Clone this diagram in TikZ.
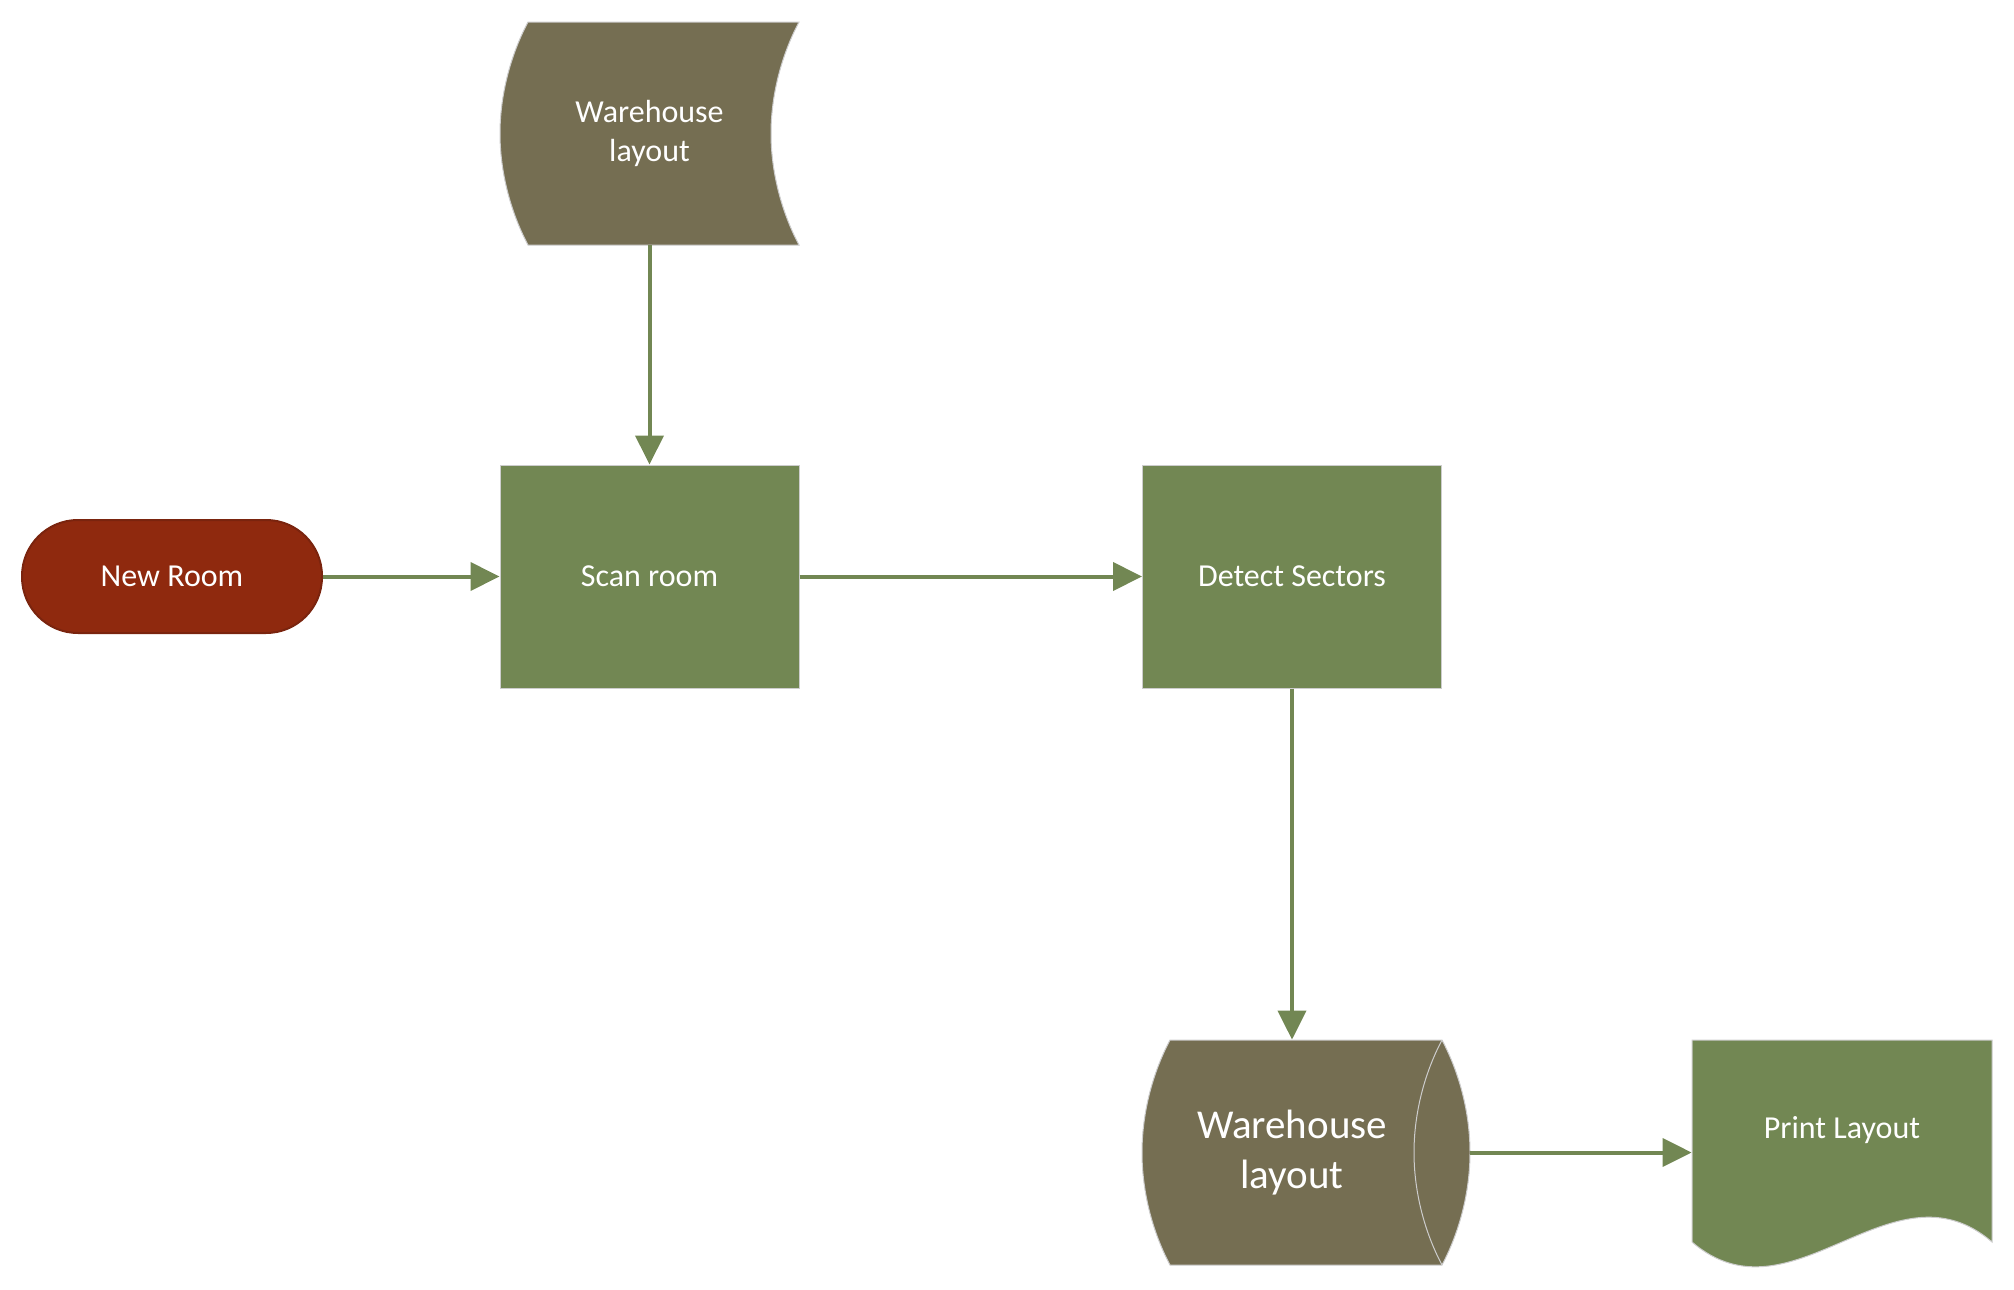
\documentclass[tikz,border=0pt]{standalone}
\usepackage{fontspec}
\setmainfont{Carlito}
\usetikzlibrary{arrows.meta}
\definecolor{procgreen}{RGB}{114,135,83}
\definecolor{storebrown}{RGB}{117,110,82}
\definecolor{termred}{RGB}{143,41,14}
\definecolor{termedge}{RGB}{122,36,14}
\definecolor{rimgray}{RGB}{205,205,205}
\begin{document}
\begin{tikzpicture}[x=1pt, y=-1pt,
    txt/.style={text=white, align=center, font=\fontsize{16}{19.5}\selectfont},
    bigtxt/.style={txt, font=\fontsize{20.5}{25}\selectfont},
    procbox/.style={txt, draw=rimgray, line width=0.5pt, fill=procgreen, minimum width=149.5pt, minimum height=111.5pt},
    startbox/.style={txt, draw=termedge, line width=1pt, fill=termred, rounded corners=28pt, minimum width=150pt, minimum height=56.5pt},
    anchorbox/.style={inner sep=0pt},
    flow/.style={color=procgreen, line width=2pt, -{Triangle[length=14.5pt, width=14pt]}}]
    \useasboundingbox (0,0) rectangle (1007,645);
    % stored data shapes
    \filldraw[fill=storebrown, draw=rimgray, line width=0.5pt]
        (264,11) -- (399.5,11)
        .. controls (390.5,28) and (385.5,48) .. (385.5,66.75)
        .. controls (385.5,85.5) and (390.5,105.5) .. (399.5,122.5)
        -- (264,122.5)
        .. controls (255,105.5) and (250,85.5) .. (250,66.75)
        .. controls (250,48) and (255,28) .. (264,11) -- cycle;
    \filldraw[fill=storebrown, draw=rimgray, line width=0.5pt]
        (585,520) -- (721,520)
        .. controls (730,537) and (735,557) .. (735,576.25)
        .. controls (735,595.5) and (730,615.5) .. (721,632.5)
        -- (585,632.5)
        .. controls (576,615.5) and (571,595.5) .. (571,576.25)
        .. controls (571,557) and (576,537) .. (585,520) -- cycle;
    \draw[rimgray, line width=0.5pt] (721,520)
        .. controls (712,537) and (707,557) .. (707,576.25)
        .. controls (707,595.5) and (712,615.5) .. (721,632.5);
    % document shape
    \filldraw[fill=procgreen, draw=rimgray, line width=0.5pt]
        (846,520) -- (996,520) -- (996,621)
        .. controls (946,578) and (896,664) .. (846,621) -- cycle;
    % nodes
    \node [txt, anchorbox, minimum width=149.5pt, minimum height=111.5pt] (layoutin) at (324.75,66.75) {Warehouse\\layout};
    \node [startbox] (newroom) at (86,288.25) {New Room};
    \node [procbox] (scan) at (324.75,288.25) {Scan room};
    \node [procbox] (detect) at (646,288.25) {Detect Sectors};
    \node [bigtxt, anchorbox, minimum width=178pt, minimum height=112.5pt] (layoutout) at (646,576.25) {Warehouse\\layout};
    \node [anchorbox, minimum width=150pt, minimum height=112.5pt, label={[txt, yshift=11.25pt]center:Print Layout}] (print) at (921,576.25) {};
    % connectors
    \path (layoutin) edge[flow] (scan);
    \path (newroom) edge[flow] (scan);
    \path (scan) edge[flow] (detect);
    \path (detect.south) edge[flow] (layoutout.north);
    \path (layoutout) edge[flow] (print);
\end{tikzpicture}
\end{document}
